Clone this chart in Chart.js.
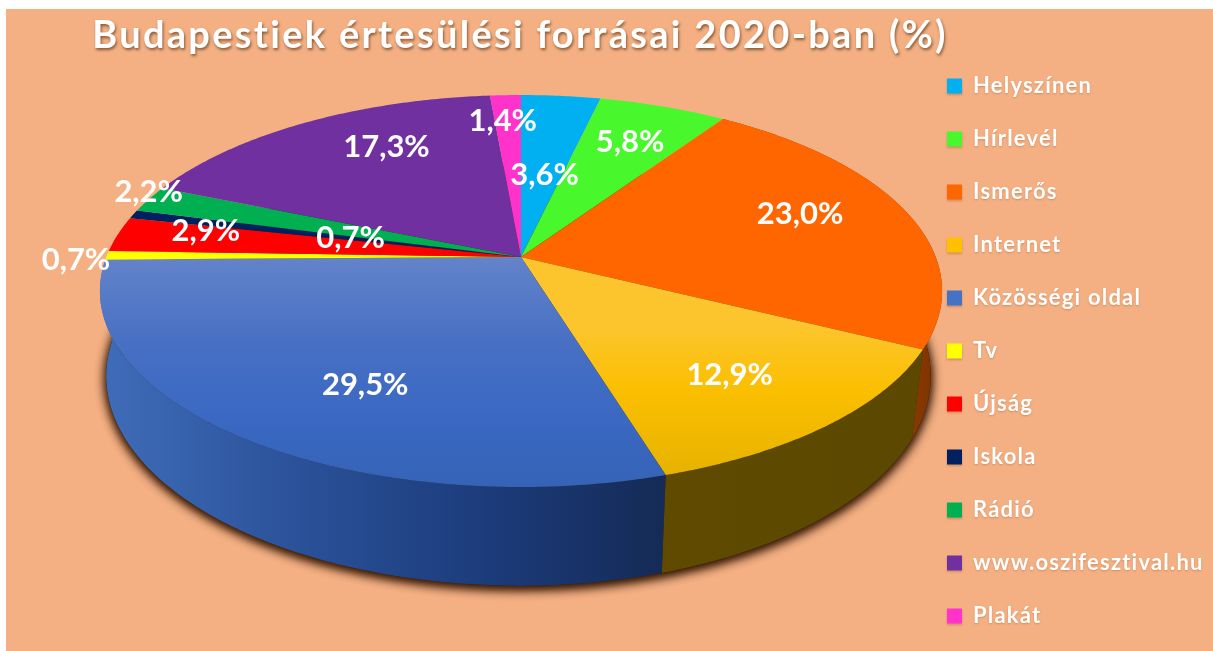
<!DOCTYPE html>
<html>
<head>
<meta charset="utf-8">
<style>
  html, body { margin: 0; padding: 0; background: #fff; }
  #wrap { width: 1213px; height: 651px; }
</style>
</head>
<body>
<div id="wrap"><canvas id="myChart" width="1213" height="651"></canvas></div>
<script src="https://cdn.jsdelivr.net/npm/chart.js@4"></script>
<script>
const categories = ['Helyszínen', 'Hírlevél', 'Ismerős', 'Internet', 'Közösségi oldal', 'Tv', 'Újság', 'Iskola', 'Rádió', 'www.oszifesztival.hu', 'Plakát'];
const values = [3.6, 5.8, 23.0, 12.9, 29.5, 0.7, 2.9, 0.7, 2.2, 17.3, 1.4];
const colors = ['#00b0f0', '#48f82c', '#ff6600', '#ffc000', '#4472c4', '#ffff00', '#ff0000', '#002060', '#00b050', '#7030a0', '#ff33cc'];

// where each percent label sits: fraction of the radius, and degrees off the slice middle
const labelRadius = [0.47, 0.74, 0.74, 0.72, 0.69, 1.07, 0.79, 0.43, 1.02, 0.74, 0.82];
const labelTurn = [1, 0, -4, 1, -7, -1.5, 3, 0, 2, 7, -1];

const bgColor = '#f4b083';
const depth = 89;

// top face shading, keyed by slice colour
const topShades = {
    '#4472c4': [[255, '#6484ca'], [340, '#4870c4'], [420, '#3a68c2'], [490, '#3463b6']],
    '#ffc000': [[325, '#fcc52e'], [390, '#fbbf00'], [478, '#e6b200']]
};
// wall shading, left to right. only the slices facing the viewer have a wall
const wallShades = {
    '#4472c4': [[105, '#3f6cb8'], [300, '#2a5199'], [500, '#1b3a78'], [665, '#152b56']],
    '#ffc000': [[660, '#5f4a00'], [920, '#5c4800']],
    '#ff6600': [[910, '#8a3a00'], [942, '#7a3100']]
};

// perspective view of the flat disc: back rim pulled in, front rim pushed out
function project(arc, angle, r) {
    const a = angle + Math.PI / 2;
    const u = r * Math.sin(a);
    const v = -r * Math.cos(a);
    const d = 1 - 0.1735 * v;
    return {
        x: arc.x + arc.outerRadius * 0.985 * u / d,
        y: arc.y + arc.outerRadius * 0.4515 * v / d
    };
}

function lower(arc, p) {
    const k = p.x < arc.x ? 0.985 : 0.973;
    return {
        x: arc.x + k * (p.x - arc.x),
        y: p.y + depth + (p.y - 349) * 0.07
    };
}

function rimPoints(arc, from, to) {
    const pts = [];
    const steps = Math.max(2, Math.ceil(Math.abs(to - from) / 0.01));
    for (let i = 0; i <= steps; i++) {
        pts.push(project(arc, from + (to - from) * i / steps, 1));
    }
    return pts;
}

function shade(ctx, stops, x0, y0, x1, y1) {
    const g = ctx.createLinearGradient(x0, y0, x1, y1);
    const lo = stops[0][0];
    const hi = stops[stops.length - 1][0];
    stops.forEach(s => g.addColorStop((s[0] - lo) / (hi - lo), s[1]));
    return g;
}

function setShadow(ctx, color, blur, dx, dy) {
    ctx.shadowColor = color;
    ctx.shadowBlur = blur;
    ctx.shadowOffsetX = dx;
    ctx.shadowOffsetY = dy;
}

// slices go through the normal pie controller, only the outline is changed
Chart.ArcElement.prototype.draw = function (ctx) {
    const color = this.options.backgroundColor;
    const pts = rimPoints(this, this.startAngle, this.endAngle);
    ctx.save();
    ctx.beginPath();
    ctx.moveTo(this.x, this.y);
    pts.forEach(p => ctx.lineTo(p.x, p.y));
    ctx.closePath();
    if (topShades[color]) {
        const s = topShades[color];
        ctx.fillStyle = shade(ctx, s, 0, s[0][0], 0, s[s.length - 1][0]);
    } else {
        ctx.fillStyle = color;
    }
    ctx.fill();
    ctx.restore();
};

const pie3d = {
    id: 'pie3d',
    afterLayout(chart) {
        const a = chart.chartArea;
        a.left = 100; a.right = 942; a.width = 842;
        a.top = 95; a.bottom = 419; a.height = 324;
        chart.legend.left = 916;
        chart.legend.top = 44;
        chart.legend.bottom = 720;
        const title = chart.titleBlock;
        title.left = 0;
        title.right = 1040;
        if (!title.spaced) {
            // the title is wider set than the legend and has a harder shadow
            const drawTitle = title.draw;
            title.draw = function () {
                const ctx = chart.ctx;
                ctx.save();
                ctx.letterSpacing = '2.3px';
                setShadow(ctx, 'rgba(100,60,30,0.75)', 3, 1, 2);
                drawTitle.call(title);
                ctx.restore();
            };
            title.spaced = true;
        }
    },
    beforeDraw(chart) {
        const ctx = chart.ctx;
        ctx.fillStyle = bgColor;
        ctx.fillRect(6, 9, chart.width - 6, chart.height - 9);
        ctx.letterSpacing = '1.2px';
        setShadow(ctx, 'rgba(150,90,50,0.4)', 2, 0, 1);
    },
    beforeDatasetsDraw(chart) {
        const ctx = chart.ctx;
        ctx.letterSpacing = '0px';
        setShadow(ctx, 'transparent', 0, 0, 0);
        const arcs = chart.getDatasetMeta(0).data;
        const first = arcs[0];

        // soft shadow on the background under the disc, twice to make it dark
        ctx.save();
        setShadow(ctx, 'rgba(50,20,0,0.95)', 11, 0, 3);
        ctx.fillStyle = '#3a2a10';
        for (let n = 0; n < 2; n++) {
            ctx.beginPath();
            rimPoints(first, 0, Math.PI * 2).forEach((p, i) => {
                const q = lower(first, p);
                if (i === 0) ctx.moveTo(q.x, q.y); else ctx.lineTo(q.x, q.y);
            });
            ctx.closePath();
            ctx.fill();
        }
        ctx.restore();

        // walls
        arcs.forEach(arc => {
            const s = wallShades[arc.options.backgroundColor];
            if (!s) return;
            const pts = rimPoints(arc, arc.startAngle, arc.endAngle);
            ctx.beginPath();
            pts.forEach((p, i) => { if (i === 0) ctx.moveTo(p.x, p.y); else ctx.lineTo(p.x, p.y); });
            pts.slice().reverse().forEach(p => { const q = lower(arc, p); ctx.lineTo(q.x, q.y); });
            ctx.closePath();
            ctx.fillStyle = shade(ctx, s, s[0][0], 0, s[s.length - 1][0], 0);
            ctx.fill();
        });
    },
    afterDatasetsDraw(chart) {
        const ctx = chart.ctx;
        ctx.save();
        ctx.font = 'bold 31px Lato';
        ctx.fillStyle = '#ffffff';
        ctx.textAlign = 'center';
        ctx.textBaseline = 'middle';
        chart.getDatasetMeta(0).data.forEach((arc, i) => {
            const mid = (arc.startAngle + arc.endAngle) / 2 + labelTurn[i] * Math.PI / 180;
            const p = project(arc, mid, labelRadius[i]);
            ctx.fillText(values[i].toFixed(1).replace('.', ',') + '%', p.x, p.y);
        });
        ctx.restore();
    }
};

new Chart(document.getElementById('myChart'), {
    type: 'pie',
    plugins: [pie3d],
    data: {
        labels: categories,
        datasets: [{
            data: values,
            backgroundColor: colors,
            borderWidth: 0,
            hoverOffset: 0,
            clip: false
        }]
    },
    options: {
        responsive: false,
        animation: false,
        radius: 421,
        plugins: {
            tooltip: { enabled: false },
            title: {
                display: true,
                text: 'Budapestiek értesülési forrásai 2020-ban (%)',
                color: '#ffffff',
                font: { family: 'Lato', size: 38, weight: 'bold' },
                padding: { top: 13, bottom: 10 }
            },
            legend: {
                position: 'right',
                align: 'start',
                labels: {
                    color: '#ffffff',
                    boxWidth: 15,
                    boxHeight: 15,
                    padding: 31,
                    font: { family: 'Lato', size: 22, weight: 'bold' }
                }
            }
        }
    }
});
</script>
</body>
</html>
